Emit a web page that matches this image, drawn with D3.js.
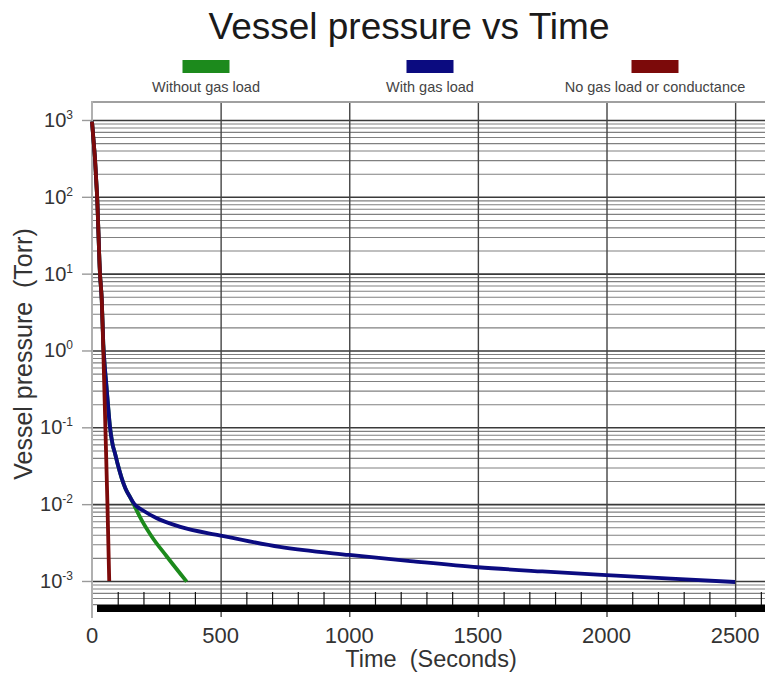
<!DOCTYPE html>
<html><head><meta charset="utf-8">
<script src="https://cdn.jsdelivr.net/npm/d3@7"></script>
<style>
html,body{margin:0;padding:0;background:#fff;}
svg{display:block;font-family:"Liberation Sans",Arial,sans-serif;}
</style></head><body>
<svg id="chart" width="765" height="676"></svg>
<script>
// ---------- data ----------
const chartTitle = "Vessel pressure vs Time";
const xAxisTitle = "Time  (Seconds)";
const yAxisTitle = "Vessel pressure  (Torr)";
const seriesNames = ["Without gas load", "With gas load", "No gas load or conductance"];
const seriesColors = ["#1c8a1c", "#0b0b80", "#7c0a0a"];
const xTickValues = [0, 500, 1000, 1500, 2000, 2500];
const yTickExponents = [3, 2, 1, 0, -1, -2, -3];

const withoutGasTime     = [0, 20, 31, 38, 44, 50, 56, 62, 70, 80, 90, 100, 115, 130, 150, 165, 193, 232, 290, 368];
const withoutGasPressure = [950, 100, 10, 4.5, 1.2, 0.6, 0.35, 0.2, 0.1, 0.06, 0.045, 0.033, 0.022, 0.016, 0.012, 0.0095, 0.0062, 0.0038, 0.0021, 0.00098];

const withGasTime     = [0, 20, 31, 38, 44, 50, 56, 62, 70, 80, 90, 100, 115, 130, 150, 165, 200, 250, 340, 500, 730, 1000, 1250, 1500, 1750, 2000, 2250, 2500];
const withGasPressure = [950, 100, 10, 4.5, 1.2, 0.6, 0.35, 0.2, 0.1, 0.06, 0.045, 0.033, 0.022, 0.016, 0.012, 0.0100, 0.0082, 0.0066, 0.0051, 0.0039, 0.00278, 0.00218, 0.0018, 0.00151, 0.00133, 0.00119, 0.00107, 0.00097];

const noLoadTime     = [0, 20, 31, 38, 44, 52, 60, 67];
const noLoadPressure = [950, 100, 10, 4.5, 1, 0.1, 0.01, 0.001];

// ---------- setup ----------
const svg = d3.select("#chart");
const W = 765;
const x = d3.scaleLinear().domain([0, 2620]).range([92, 766]);
const y = d3.scaleLog().domain([1714, 4.45e-4]).range([102, 608]);

// horizontal grid (1..9 x 10^k)
const gridVals = [];
for (let k = -4; k <= 2; k++) for (let m = 1; m <= 9; m++) {
  const v = m * Math.pow(10, k);
  if (v >= 4.6e-4 && v <= 1000 + 1e-9) gridVals.push(v);
}
gridVals.push(1000);
const isDecade = d => Math.abs(Math.log10(d) - Math.round(Math.log10(d))) < 1e-9;
const gY = svg.append("g").attr("transform", "translate(93,0)")
  .call(d3.axisLeft(y).tickValues(gridVals).tickSize(-(W - 93)).tickFormat(""));
gY.select(".domain").remove();
gY.selectAll(".tick line")
  .attr("stroke", d => isDecade(d) ? "#3a3a3a" : "#808080")
  .attr("stroke-width", d => isDecade(d) ? 1.6 : 1.1);

// vertical grid
const gX = svg.append("g").attr("transform", "translate(0,617)")
  .call(d3.axisBottom(x).tickValues(xTickValues.filter(v => v > 0)).tickSize(-(617 - 102)).tickFormat(""));
gX.select(".domain").remove();
gX.selectAll(".tick line").attr("stroke", "#444").attr("stroke-width", 1.4);

// frame
svg.append("line").attr("x1", 92).attr("x2", W).attr("y1", 102).attr("y2", 102)
  .attr("stroke", "#a0a0a0").attr("stroke-width", 2);
svg.append("line").attr("x1", x(0)).attr("x2", x(0)).attr("y1", 101).attr("y2", 618)
  .attr("stroke", "#b0b0b0").attr("stroke-width", 2);

// minor ticks at bottom
const minorTicks = d3.range(100, 2700, 100).filter(v => v % 500 !== 0);
const gM = svg.append("g").attr("transform", "translate(0,605)")
  .call(d3.axisBottom(x).tickValues(minorTicks).tickSizeInner(-13).tickSizeOuter(0).tickFormat(""));
gM.select(".domain").remove();
gM.selectAll(".tick line").attr("stroke", "#111").attr("stroke-width", 1.2);

// thick bottom bar
svg.append("rect").attr("x", 97).attr("y", 605).attr("width", W - 97).attr("height", 7).attr("fill", "#000");

// y decade ticks and labels
const decVals = yTickExponents.map(e => Math.pow(10, e));
const gYT = svg.append("g").attr("transform", "translate(92,0)")
  .call(d3.axisLeft(y).tickValues(decVals).tickSizeInner(10).tickSizeOuter(0).tickFormat(""));
gYT.select(".domain").remove();
gYT.selectAll(".tick line").attr("stroke", "#9a9a9a").attr("stroke-width", 1.4);
const yl = svg.append("g").selectAll("text").data(yTickExponents).join("text")
  .attr("x", 73).attr("y", e => y(Math.pow(10, e)) + 7)
  .attr("text-anchor", "end").attr("fill", "#333").attr("font-size", 20);
yl.append("tspan").text("10");
yl.append("tspan").attr("dy", -8).attr("font-size", 12).text(e => String(e));

// x tick labels
svg.append("g").selectAll("text").data(xTickValues).join("text")
  .attr("x", d => x(d)).attr("y", 643).attr("text-anchor", "middle")
  .attr("fill", "#333").attr("font-size", 22).text(d => d);

// series
const line = d3.line().x(d => x(d[0])).y(d => y(d[1])).curve(d3.curveMonotoneX);
const series = [
  { t: withoutGasTime, p: withoutGasPressure, c: seriesColors[0] },
  { t: withGasTime, p: withGasPressure, c: seriesColors[1] },
  { t: noLoadTime, p: noLoadPressure, c: seriesColors[2] }
];
series.forEach(s => {
  svg.append("path").datum(s.t.map((t, i) => [t, s.p[i]]))
    .attr("d", line).attr("fill", "none").attr("stroke", s.c)
    .attr("stroke-width", 3.8).attr("stroke-linejoin", "round");
});

// title
svg.append("text").attr("x", 409).attr("y", 39).attr("text-anchor", "middle")
  .attr("font-size", 37).attr("fill", "#1a1a1a").text(chartTitle);

// legend
const legX = [206, 430, 655];
const lg = svg.append("g").selectAll("g").data(seriesNames).join("g");
lg.append("rect").attr("x", (d, i) => legX[i] - 23.5).attr("y", 60).attr("width", 47).attr("height", 13)
  .attr("fill", (d, i) => seriesColors[i]);
lg.append("text").attr("x", (d, i) => legX[i]).attr("y", 92).attr("text-anchor", "middle")
  .attr("font-size", 14.5).attr("fill", "#444").text(d => d);

// axis titles
svg.append("text").attr("x", 431).attr("y", 667).attr("text-anchor", "middle")
  .attr("font-size", 23.5).attr("fill", "#333").style("white-space", "pre").text(xAxisTitle);
svg.append("text").attr("transform", "translate(32,354) rotate(-90)").attr("text-anchor", "middle")
  .attr("font-size", 25).attr("fill", "#333").style("white-space", "pre").text(yAxisTitle);
</script>
</body></html>
